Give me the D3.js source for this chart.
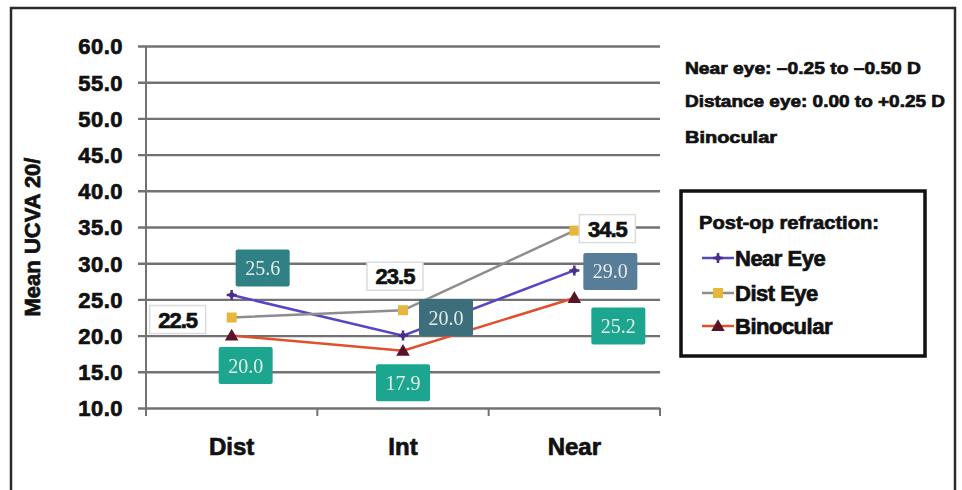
<!DOCTYPE html>
<html>
<head>
<meta charset="utf-8">
<script src="https://cdn.jsdelivr.net/npm/d3@7"></script>
<style>
  html, body { margin: 0; padding: 0; background: #fff; }
  svg { display: block; }
  .heavy { font-family: Arial, 'Liberation Sans', sans-serif; font-weight: bold; fill: #111; stroke: #111; stroke-width: 0.7px; }
</style>
</head>
<body>
<svg id="chart" width="962" height="490"></svg>
<script>
// Viewing distances on the x axis
const categories = ["Dist", "Int", "Near"];

// Mean uncorrected visual acuity (Snellen denominator, 20/x)
const nearEye = [25.6, 20.0, 29.0];
const distEye = [22.5, 23.5, 34.5];
const binocular = [20.0, 17.9, 25.2];

const seriesNames = ["Near Eye", "Dist Eye", "Binocular"];
const yTicks = [10, 15, 20, 25, 30, 35, 40, 45, 50, 55, 60];

const notes = [
  "Near eye: \u20130.25 to \u20130.50 D",
  "Distance eye: 0.00 to +0.25 D",
  "Binocular"
];

const svg = d3.select("#chart");

// Frame around the figure (open at the bottom edge)
svg.append("rect")
  .attr("x", 11).attr("y", 8).attr("width", 944).attr("height", 520)
  .attr("fill", "#fff").attr("stroke", "#2a2a2a").attr("stroke-width", 2.5);

const plot = { left: 146, right: 660, top: 46, bottom: 408 };

const x = d3.scaleBand().domain(categories).range([plot.left, plot.right]).padding(0);
const y = d3.scaleLinear().domain([10, 60]).range([plot.bottom, plot.top]);

// Horizontal gridlines with small ticks to the left of the axis
const yAxis = d3.axisLeft(y)
  .tickValues(yTicks)
  .tickSize(-(plot.right - plot.left))
  .tickFormat(d3.format(".1f"));

const gy = svg.append("g")
  .attr("transform", `translate(${plot.left},0)`)
  .call(yAxis);
gy.select(".domain").remove();
gy.selectAll(".tick line")
  .attr("x1", -8)
  .attr("stroke", "#727272").attr("stroke-width", 2.4);
gy.selectAll(".tick text")
  .attr("x", -23)
  .attr("dy", "0.36em")
  .attr("class", "heavy")
  .style("font-size", "22px")
  .style("letter-spacing", "0.5px");

// Vertical axis line
svg.append("line")
  .attr("x1", plot.left).attr("x2", plot.left)
  .attr("y1", plot.top).attr("y2", plot.bottom + 8)
  .attr("stroke", "#727272").attr("stroke-width", 2);

// Category axis with ticks between bands
const bounds = categories.map(c => x(c)).concat([plot.right]);
svg.append("g").selectAll("line").data(bounds).join("line")
  .attr("x1", d => d).attr("x2", d => d)
  .attr("y1", plot.bottom).attr("y2", plot.bottom + 8)
  .attr("stroke", "#727272").attr("stroke-width", 2);

svg.append("g").selectAll("text").data(categories).join("text")
  .attr("x", d => x(d) + x.bandwidth() / 2)
  .attr("y", 455)
  .attr("text-anchor", "middle")
  .attr("class", "heavy")
  .style("font-size", "24px")
  .text(d => d);

// Y axis title
svg.append("text")
  .attr("transform", `translate(40,237) rotate(-90)`)
  .attr("text-anchor", "middle")
  .attr("class", "heavy")
  .style("font-size", "22px")
  .text("Mean UCVA 20/");

// Series definitions
const series = [
  { name: seriesNames[0], values: nearEye, line: "#5547c4", marker: "plus", mColor: "#4a2f8a",
    box: ["#2f8185", "#3c6e7c", "#577d98"], offsets: [[31, -27], [43, -18], [36, 1]] },
  { name: seriesNames[1], values: distEye, line: "#8d8d8d", marker: "square", mColor: "#e6b73c",
    box: null, offsets: [[-54, 2], [-8, -34], [33, -2]] },
  { name: seriesNames[2], values: binocular, line: "#e0502c", marker: "triangle", mColor: "#5a1428",
    box: ["#1ca68f", "#1ca68f", "#1ca68f"], offsets: [[14, 30], [0, 32], [44, 28]] }
];

const cx = c => x(c) + x.bandwidth() / 2;
const lineGen = d3.line().x(d => cx(d.cat)).y(d => y(d.v));

function drawMarker(g, type, color, px, py, s) {
  if (type === "plus") {
    g.append("path")
      .attr("d", `M${px - s},${py}L${px + s},${py}M${px},${py - s}L${px},${py + s}`)
      .attr("stroke", color).attr("stroke-width", 2.5);
    g.append("circle").attr("cx", px).attr("cy", py).attr("r", s * 0.55).attr("fill", color);
  } else if (type === "square") {
    g.append("rect").attr("x", px - s).attr("y", py - s)
      .attr("width", 2 * s).attr("height", 2 * s).attr("fill", color);
  } else {
    g.append("path")
      .attr("d", d3.symbol().type(d3.symbolTriangle).size(s * s * 3.2)())
      .attr("transform", `translate(${px},${py + 1})`)
      .attr("fill", color);
  }
}

const linesG = svg.append("g");
series.forEach(s => {
  const pts = categories.map((c, i) => ({ cat: c, v: s.values[i] }));
  linesG.append("path")
    .attr("d", lineGen(pts))
    .attr("fill", "none")
    .attr("stroke", s.line)
    .attr("stroke-width", 2.5);
  pts.forEach(p => drawMarker(linesG, s.marker, s.mColor, cx(p.cat), y(p.v), 5));
});

// Value labels
const labelsG = svg.append("g");
series.forEach(s => {
  categories.forEach((c, i) => {
    const v = s.values[i];
    const [dx, dy] = s.offsets[i];
    const lx = cx(c) + dx, ly = y(v) + dy;
    if (s.box) {
      const w = 54, h = 37;
      labelsG.append("rect")
        .attr("x", lx - w / 2).attr("y", ly - h / 2)
        .attr("width", w).attr("height", h)
        .attr("rx", 2)
        .attr("fill", s.box[i]);
      labelsG.append("text")
        .attr("x", lx).attr("y", ly + 7)
        .attr("text-anchor", "middle")
        .attr("fill", "#e4ece6")
        .style("font-family", "'Liberation Serif', 'DejaVu Serif', serif")
        .style("font-size", "20px")
        .style("filter", "blur(0.5px)")
        .text(v.toFixed(1));
    } else {
      const w = 56, h = 28;
      labelsG.append("rect")
        .attr("x", lx - w / 2).attr("y", ly - h / 2)
        .attr("width", w).attr("height", h)
        .attr("fill", "#fff")
        .attr("stroke", "#dcdcdc").attr("stroke-width", 1.5);
      labelsG.append("text")
        .attr("x", lx).attr("y", ly + 8)
        .attr("text-anchor", "middle")
        .attr("class", "heavy")
        .style("font-size", "22px")
        .style("letter-spacing", "-1px")
        .text(v.toFixed(1));
    }
  });
});

// Refraction notes
const noteWidths = [236, 260, 92];
svg.append("g").selectAll("text").data(notes).join("text")
  .attr("x", 685)
  .attr("y", (d, i) => [74, 107, 143][i])
  .attr("class", "heavy")
  .style("font-size", "17px")
  .attr("textLength", (d, i) => noteWidths[i])
  .attr("lengthAdjust", "spacingAndGlyphs")
  .text(d => d);

// Legend
const lg = svg.append("g");
lg.append("rect")
  .attr("x", 681).attr("y", 191).attr("width", 244).attr("height", 165)
  .attr("fill", "#fff").attr("stroke", "#111").attr("stroke-width", 3.5);
lg.append("text")
  .attr("x", 699).attr("y", 229)
  .attr("class", "heavy")
  .style("font-size", "19px")
  .attr("textLength", 180)
  .attr("lengthAdjust", "spacingAndGlyphs")
  .text("Post-op refraction:");
const legendY = [258, 293, 326];
series.forEach((s, i) => {
  const ly = legendY[i];
  lg.append("line")
    .attr("x1", 702).attr("x2", 734)
    .attr("y1", ly).attr("y2", ly)
    .attr("stroke", s.line).attr("stroke-width", 2.5);
  drawMarker(lg, s.marker, s.mColor, 718, ly, 5);
  lg.append("text")
    .attr("x", 735).attr("y", ly + 8)
    .attr("class", "heavy")
    .style("font-size", "22px")
    .style("letter-spacing", "-0.5px")
    .text(s.name);
});
</script>
</body>
</html>
